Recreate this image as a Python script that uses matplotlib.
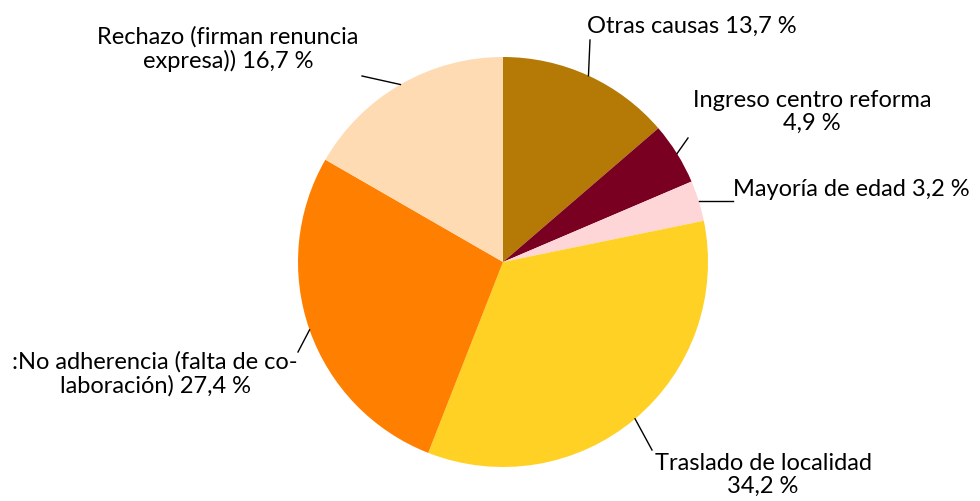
import matplotlib.pyplot as plt
import numpy as np

plt.rcParams['font.family'] = ['Lato', 'DejaVu Sans']

categorias = ['Otras causas', 'Ingreso centro reforma', 'Mayoría de edad',
              'Traslado de localidad', ':No adherencia (falta de co-\nlaboración)',
              'Rechazo (firman renuncia\nexpresa))']
valores = [13.7, 4.9, 3.2, 34.2, 27.4, 16.7]
colores = ['#B47A05', '#7A0022', '#FFD6D7', '#FFD124', '#FF8000', '#FFDBB4']

# texto: (x, y, alineacion, separador antes del %)
etiquetas = [
    (692, 26, 'center', ' '),
    (812, 112, 'center', '\n'),
    (733, 190, 'left', ' '),
    (763, 475, 'center', '\n'),
    (155, 374, 'center', ' '),
    (228, 49, 'center', ' '),
]
# extremo exterior de cada linea guia
guias = [(590, 40), (688, 138), (733, 201), (652, 450), (298, 352), (362, 76)]

fig = plt.figure(figsize=(9.8, 5.01), dpi=100)
ax = fig.add_axes([0, 0, 1, 1])

cx, cy, r = 503, 262, 205
# eje y invertido (pixeles): startangle -90 apunta hacia arriba y el giro queda horario
wedges, _ = ax.pie(valores, colors=colores, startangle=-90, counterclock=True,
                   center=(cx, cy), radius=r, frame=True)
ax.set_xlim(0, 980)
ax.set_ylim(501, 0)
ax.set_aspect('equal')
ax.axis('off')

for w, (tx, ty, ha, sep), (gx, gy), cat, v in zip(wedges, etiquetas, guias, categorias, valores):
    ang = np.deg2rad((w.theta1 + w.theta2) / 2)
    ex = cx + r * np.cos(ang)
    ey = cy + r * np.sin(ang)
    if cat == 'Mayoría de edad':
        ey = gy
        ex = cx + np.sqrt(r ** 2 - (gy - cy) ** 2)
    ax.plot([ex, gx], [ey, gy], color='black', lw=1)
    texto = cat + sep + ('%.1f %%' % v).replace('.', ',')
    ax.text(tx, ty, texto, ha=ha, va='center', fontsize=17, color='black',
            linespacing=1.12, multialignment='center')

fig.savefig('out.png', dpi=100)
